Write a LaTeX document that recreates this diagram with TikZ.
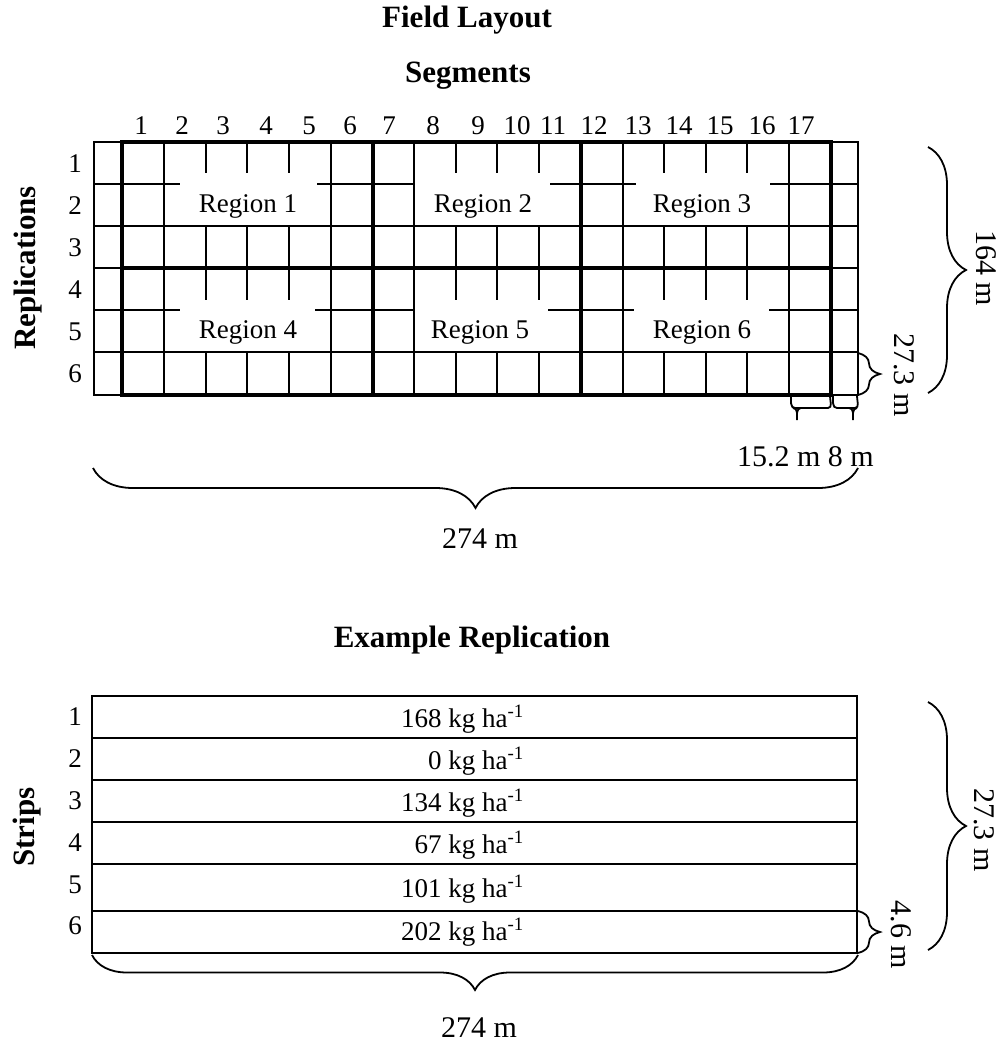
\documentclass[tikz,border=0pt]{standalone}
\usepackage{fontspec}
\setmainfont{Liberation Serif}
\usetikzlibrary{decorations.pathreplacing}
\begin{document}
\begin{tikzpicture}[x=1pt,y=-1pt,
  thingrid/.style={line width=1.8pt, line cap=rect},
  thickgrid/.style={line width=4.5pt, line cap=rect},
  striprule/.style={line width=2.2pt},
  lbl/.style={font=\fontsize{27}{32}\selectfont, inner sep=0pt},
  dimlbl/.style={font=\fontsize{30}{35}\selectfont, inner sep=0pt},
  ttl/.style={font=\fontsize{31}{36}\selectfont\bfseries, inner sep=0pt},
  brc/.style={decorate, line width=1.8pt},
  whitebox/.style={fill=white, draw=none},
]
\useasboundingbox (0,0) rectangle (1003,1043);

% ---------- titles ----------
\node[ttl, anchor=base] (t1) at (467,28) {Field Layout};
\node[ttl, anchor=base] (t2) at (468,83) {Segments};

% ---------- thin grid ----------
\foreach \x in {94,122,164,206,247,289,331,373,414,456,497,539,581,623,664,706,747,789,831,858}
  \draw[thingrid] (\x,142) -- (\x,395);
\foreach \y in {142,184,226,268,310,352,395}
  \draw[thingrid] (94,\y) -- (858,\y);

% ---------- label areas (hide inner lines) ----------
\fill[whitebox] (180,173) rectangle (317,224.6);
\fill[whitebox] (415.2,173) rectangle (550,224.6);
\fill[whitebox] (636,173) rectangle (770,224.6);
\fill[whitebox] (180,300) rectangle (315,350.6);
\fill[whitebox] (415.2,300) rectangle (548,350.6);
\fill[whitebox] (634,300) rectangle (769,350.6);

% ---------- thick region borders ----------
\draw[thickgrid] (122,142) rectangle (831,395);
\draw[thickgrid] (122,268) -- (831,268);
\draw[thickgrid] (373,142) -- (373,395);
\draw[thickgrid] (581,142) -- (581,395);

% ---------- region labels ----------
\node[lbl, anchor=base] (r1) at (248,212) {Region 1};
\node[lbl, anchor=base] (r2) at (483,212) {Region 2};
\node[lbl, anchor=base] (r3) at (702,212) {Region 3};
\node[lbl, anchor=base] (r4) at (248,338) {Region 4};
\node[lbl, anchor=base] (r5) at (480,338) {Region 5};
\node[lbl, anchor=base] (r6) at (702,338) {Region 6};

% ---------- column numbers ----------
\foreach \n/\x in {1/141,2/182,3/223,4/266,5/309,6/350,7/389,8/433,9/478,10/517,11/553,12/594,13/638,14/679,15/720,16/762,17/801}
  \node[lbl, anchor=base] (c\n) at (\x,135) {\n};

% ---------- row numbers ----------
\foreach \n/\y in {1/172,2/214,3/256,4/298,5/340,6/382}
  \node[lbl, anchor=base] (rw\n) at (75,\y) {\n};

\node[ttl, rotate=90] (repl) at (28,268) {Replications};

% ---------- dimension braces, top ----------
\coordinate (b164a) at (928,147);
\coordinate (b164b) at (928,393);
\draw[brc, decoration={brace, amplitude=38pt}] (b164a) -- (b164b);
\node[dimlbl, rotate=-90] (d164) at (986,268) {164 m};

\coordinate (b27a) at (858,353);
\coordinate (b27b) at (858,395);
\draw[brc, decoration={brace, amplitude=22pt}] (b27a) -- (b27b);
\node[dimlbl, rotate=-90] (d27) at (904,375) {27.3 m};

% small braces under column 17 and border column
\draw[line width=1.8pt] (791,396) to[out=-90,in=180] (795,408) -- (828,408) to[out=0,in=-90] (830,396);
\draw[line width=1.8pt] (793,408) to[out=0,in=90] (797,420) to[out=90,in=180] (801,408);
\draw[line width=1.8pt] (833,396) to[out=-90,in=180] (837,408) -- (855,408) to[out=0,in=-90] (857,396);
\draw[line width=1.8pt] (849,408) to[out=0,in=90] (853,420) to[out=90,in=180] (857,408);
\node[dimlbl, anchor=base east] (d15) at (874,466) {15.2 m 8 m};

\coordinate (b274a) at (93,468);
\coordinate (b274b) at (858,468);
\draw[brc, decoration={brace, mirror, amplitude=40pt, aspect=0.5}] (b274a) -- (b274b);
\node[dimlbl, anchor=base] (d274) at (480,548) {274 m};

% ---------- example replication ----------
\node[ttl, anchor=base] (t3) at (472,647) {Example Replication};

\draw[striprule] (92,696) rectangle (857,953);
\foreach \y in {738,780,822,864,911}
  \draw[striprule] (92,\y) -- (857,\y);

\foreach \n/\y in {1/725,2/767,3/809,4/851,5/893,6/934}
  \node[lbl, anchor=base] (s\n) at (75,\y) {\n};

\node[ttl, rotate=90] (strips) at (27,827) {Strips};

\foreach \n/\t/\y in {a/168/727,b/0/769,c/134/811,d/67/853,e/101/897,f/202/940}
  \node[lbl, anchor=base east] (k\n) at (524,\y) {\t\ kg ha\textsuperscript{-1}};

\coordinate (bs27a) at (928,702);
\coordinate (bs27b) at (928,950);
\draw[brc, decoration={brace, amplitude=38pt}] (bs27a) -- (bs27b);
\node[dimlbl, rotate=-90] (ds27) at (984,830) {27.3 m};

\coordinate (b46a) at (858,911);
\coordinate (b46b) at (858,953);
\draw[brc, decoration={brace, amplitude=22pt}] (b46a) -- (b46b);
\node[dimlbl, rotate=-90] (d46) at (901,935) {4.6 m};

\coordinate (bb274a) at (92,955);
\coordinate (bb274b) at (858,955);
\draw[brc, decoration={brace, mirror, amplitude=35pt}] (bb274a) -- (bb274b);
\node[dimlbl, anchor=base] (db274) at (479,1037) {274 m};
\end{tikzpicture}
\end{document}
